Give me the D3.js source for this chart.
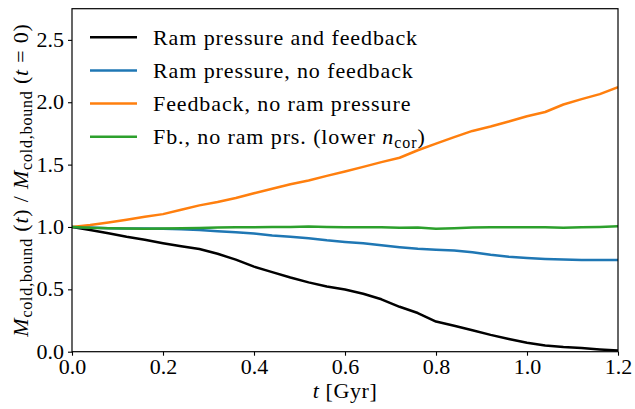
<!DOCTYPE html>
<html>
<head>
<meta charset="utf-8">
<script src="https://cdn.jsdelivr.net/npm/d3@7"></script>
<style>
  body { margin: 0; background: #fff; }
  text { font-family: "Liberation Serif", "DejaVu Serif", serif; }
</style>
</head>
<body>
<script>

// time samples [Gyr]
var times = [0, 0.04, 0.08, 0.12, 0.16, 0.20, 0.24, 0.28, 0.32, 0.36, 0.40,
             0.44, 0.48, 0.52, 0.56, 0.60, 0.64, 0.68, 0.72, 0.76, 0.80,
             0.84, 0.88, 0.92, 0.96, 1.00, 1.04, 1.08, 1.12, 1.16, 1.20];

var ramAndFb = [1.0, 0.975, 0.95, 0.922, 0.898, 0.870, 0.845, 0.823, 0.785, 0.738, 0.682,
                0.638, 0.595, 0.556, 0.522, 0.498, 0.465, 0.420, 0.360, 0.310, 0.242,
                0.208, 0.172, 0.135, 0.102, 0.072, 0.050, 0.037, 0.029, 0.018, 0.010];

var ramNoFb = [1.0, 0.995, 0.99, 0.988, 0.988, 0.986, 0.982, 0.976, 0.965, 0.957, 0.948,
               0.932, 0.922, 0.910, 0.893, 0.880, 0.870, 0.853, 0.838, 0.826, 0.818,
               0.811, 0.797, 0.777, 0.761, 0.751, 0.744, 0.739, 0.736, 0.735, 0.735];

var fbNoRam = [1.0, 1.015, 1.035, 1.058, 1.082, 1.103, 1.138, 1.173, 1.200, 1.232, 1.270,
               1.307, 1.343, 1.372, 1.410, 1.445, 1.482, 1.520, 1.555, 1.615, 1.668,
               1.720, 1.770, 1.805, 1.845, 1.888, 1.922, 1.982, 2.025, 2.065, 2.120];

var fbLowNcor = [1.0, 0.993, 0.99, 0.987, 0.985, 0.987, 0.99, 0.992, 0.995, 0.997, 0.998,
                 1.0, 1.0, 1.003, 1.0, 0.997, 0.998, 0.997, 0.993, 0.995, 0.985,
                 0.99, 0.995, 0.997, 0.998, 0.998, 0.997, 0.993, 0.997, 1.0, 1.005];

var labels = ["Ram pressure and feedback", "Ram pressure, no feedback",
              "Feedback, no ram pressure", "Fb., no ram prs. (lower "];
var colors = ["#000000", "#1f77b4", "#ff7f0e", "#2ca02c"];
var xTicks = [0, 0.2, 0.4, 0.6, 0.8, 1.0, 1.2];
var yTicks = [0, 0.5, 1.0, 1.5, 2.0, 2.5];

var series = [ramAndFb, ramNoFb, fbNoRam, fbLowNcor];

var W = 635, H = 409;
var margin = { top: 8.7, right: 17, bottom: 57.3, left: 72 },
    width = W - margin.left - margin.right,
    height = H - margin.top - margin.bottom;

var x = d3.scaleLinear().domain([0, 1.2]).range([0, width]);
var y = d3.scaleLinear().domain([0, 2.75]).range([height, 0]);

var svg = d3.select("body").append("svg")
    .attr("width", W)
    .attr("height", H);

var g = svg.append("g")
    .attr("transform", "translate(" + margin.left + "," + margin.top + ")");

var line = d3.line()
    .x(function (d, i) { return x(times[i]); })
    .y(function (d) { return y(d); });

// clip lines to the axes
g.append("clipPath").attr("id", "clip")
  .append("rect").attr("width", width).attr("height", height);

series.forEach(function (s, i) {
    g.append("path")
        .datum(s)
        .attr("clip-path", "url(#clip)")
        .attr("fill", "none")
        .attr("stroke", colors[i])
        .attr("stroke-width", 2.5)
        .attr("stroke-linejoin", "round")
        .attr("d", line);
});

// axes
var xAxis = g.append("g")
    .attr("transform", "translate(0," + height + ")")
    .call(d3.axisBottom(x).tickValues(xTicks).tickFormat(d3.format(".1f"))
          .tickSize(4).tickPadding(3));
var yAxis = g.append("g")
    .call(d3.axisLeft(y).tickValues(yTicks).tickFormat(d3.format(".1f"))
          .tickSize(4).tickPadding(4));

[xAxis, yAxis].forEach(function (a) {
    a.select(".domain").remove();
    a.selectAll("line").attr("stroke", "#000").attr("stroke-width", 1.1);
    a.selectAll("text").attr("font-size", 22).attr("fill", "#000")
        .style("font-family", "'Liberation Serif', serif");
});
yAxis.selectAll("text").attr("dy", "0.3em");

// frame
g.append("rect")
    .attr("width", width).attr("height", height)
    .attr("fill", "none").attr("stroke", "#000").attr("stroke-width", 1.2);

// legend
var leg = g.append("g").attr("transform", "translate(18,28.5)");
labels.forEach(function (lab, i) {
    var row = leg.append("g").attr("transform", "translate(0," + (i * 33.2) + ")");
    row.append("line").attr("x1", 0).attr("x2", 47).attr("y1", 0).attr("y2", 0)
        .attr("stroke", colors[i]).attr("stroke-width", 2.5);
    var t = row.append("text").attr("x", 63).attr("y", 7.5)
        .attr("font-size", 22).attr("letter-spacing", 0.9)
        .attr("fill", "#000").text(lab);
    if (i === 3) {
        t.append("tspan").attr("font-style", "italic").text("n");
        t.append("tspan").attr("font-size", 16).attr("dy", 4).text("cor");
        t.append("tspan").attr("dy", -4).text(")");
    }
});

// x label
var xl = svg.append("text")
    .attr("x", margin.left + width / 2).attr("y", 398)
    .attr("text-anchor", "middle").attr("font-size", 22).attr("letter-spacing", 0.6);
xl.append("tspan").attr("font-style", "italic").text("t");
xl.append("tspan").text(" [Gyr]");

// y label
var yl = svg.append("text")
    .attr("transform", "translate(28,180) rotate(-90)")
    .attr("text-anchor", "middle").attr("font-size", 22).attr("letter-spacing", 0.8);
function massTerm(arg) {
    yl.append("tspan").attr("font-style", "italic").text("M");
    yl.append("tspan").attr("font-size", 16).attr("dy", 4).text("cold,bound");
    yl.append("tspan").attr("dy", -4).text(" (");
    yl.append("tspan").attr("font-style", "italic").text("t");
    yl.append("tspan").text(arg + ")");
}
massTerm("");
yl.append("tspan").text(" / ");
massTerm(" = 0");

</script>
</body>
</html>
